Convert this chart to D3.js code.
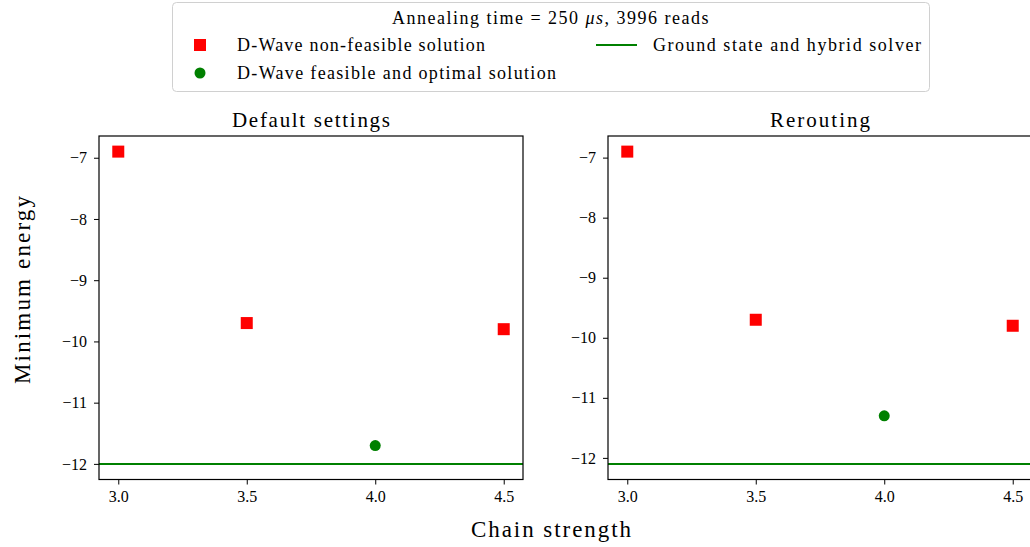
<!DOCTYPE html>
<html><head><meta charset="utf-8">
<script src="https://cdn.jsdelivr.net/npm/d3@7"></script>
<style>
html,body{margin:0;padding:0;background:#fff;overflow:hidden;}
text{font-family:"Liberation Serif","DejaVu Serif",serif;fill:#000;}
</style></head>
<body>
<svg id="c" width="1030" height="547"></svg>
<script>
// ---- data ----
const chainStrengths = [3.0, 3.5, 4.0, 4.5];
const panelTitles = ["Default settings", "Rerouting"];
const nonFeasibleDefault = [[3.0, -6.9], [3.5, -9.7], [4.5, -9.8]];
const feasibleDefault = [[4.0, -11.7]];
const groundDefault = -12.0;
const nonFeasibleReroute = [[3.0, -6.9], [3.5, -9.7], [4.5, -9.8]];
const feasibleReroute = [[4.0, -11.3]];
const groundReroute = -12.1;
const yTicks = [-7, -8, -9, -10, -11, -12];
const xTicks = [3.0, 3.5, 4.0, 4.5];
const legendTitle = "Annealing time = 250 ";
const legendLabels = ["D-Wave non-feasible solution", "D-Wave feasible and optimal solution", "Ground state and hybrid solver"];

const svg = d3.select("#c");
const panels = [
  {title: panelTitles[0], nf: nonFeasibleDefault, f: feasibleDefault, g: groundDefault, left: 99, tl: 158},
  {title: panelTitles[1], nf: nonFeasibleReroute, f: feasibleReroute, g: groundReroute, left: 608, tl: 100}
];
const W = 424, plotTop = 136, plotBottom = 479.5;
const fmtMinus = d => (d < 0 ? "\u2212" + Math.abs(d) : String(d));

panels.forEach(p => {
  const allY = p.nf.map(d => d[1]).concat(p.f.map(d => d[1]), [p.g]);
  const ymin = d3.min(allY), ymax = d3.max(allY), m = (ymax - ymin) * 0.05;
  const x = d3.scaleLinear().domain([2.925, 4.575]).range([p.left, p.left + W]);
  const y = d3.scaleLinear().domain([ymin - m, ymax + m]).range([plotBottom, plotTop]);
  const g = svg.append("g");
  g.append("line").attr("x1", x(2.925)).attr("x2", x(4.575)).attr("y1", y(p.g)).attr("y2", y(p.g))
    .attr("stroke", "#008000").attr("stroke-width", 2);
  g.selectAll("rect.nf").data(p.nf).join("rect").attr("class", "nf")
    .attr("x", d => x(d[0]) - 6).attr("y", d => y(d[1]) - 6).attr("width", 12).attr("height", 12).attr("fill", "#ff0000");
  g.selectAll("circle.f").data(p.f).join("circle").attr("class", "f")
    .attr("cx", d => x(d[0])).attr("cy", d => y(d[1])).attr("r", 5.5).attr("fill", "#008000");
  const ax = g.append("g").attr("transform", `translate(0,${plotBottom})`)
    .call(d3.axisBottom(x).tickValues(xTicks).tickFormat(d3.format(".1f")).tickSize(5).tickPadding(6));
  const ay = g.append("g").attr("transform", `translate(${p.left},0)`)
    .call(d3.axisLeft(y).tickValues(yTicks).tickFormat(fmtMinus).tickSize(5).tickPadding(7));
  [ax, ay].forEach(a => {
    a.select(".domain").remove();
    a.selectAll("line").attr("stroke", "#000").attr("stroke-width", 1);
    a.selectAll("text").style("font-size", "16px").style("font-family", '"Liberation Serif",serif');
  });
  g.append("rect").attr("x", p.left).attr("y", plotTop).attr("width", W).attr("height", plotBottom - plotTop)
    .attr("fill", "none").attr("stroke", "#000").attr("stroke-width", 1.2);
  g.append("text").attr("x", p.left + W / 2).attr("y", plotTop - 9).attr("text-anchor", "middle")
    .attr("textLength", p.tl).attr("lengthAdjust", "spacing")
    .style("font-size", "21px").text(p.title);
});

svg.append("text").attr("x", 551).attr("y", 537).attr("text-anchor", "middle")
  .attr("textLength", 160).attr("lengthAdjust", "spacing").style("font-size", "23px").text("Chain strength");
svg.append("text").attr("transform", "translate(30,290) rotate(-90)").attr("text-anchor", "middle")
  .attr("textLength", 188).attr("lengthAdjust", "spacing").style("font-size", "23px").text("Minimum energy");

const lg = svg.append("g");
lg.append("rect").attr("x", 172.5).attr("y", 2.5).attr("width", 757).attr("height", 89).attr("rx", 4)
  .attr("fill", "#fff").attr("stroke", "#d0d0d0").attr("stroke-width", 1);
const lt = lg.append("text").attr("x", 551).attr("y", 24).attr("text-anchor", "middle").style("font-size", "18px")
  .style("letter-spacing", "1.5px");
lt.append("tspan").text(legendTitle);
lt.append("tspan").style("font-style", "italic").text("\u03bcs");
lt.append("tspan").text(", 3996 reads");
lg.append("rect").attr("x", 194).attr("y", 39).attr("width", 12).attr("height", 12).attr("fill", "#ff0000");
lg.append("circle").attr("cx", 200).attr("cy", 73).attr("r", 5.5).attr("fill", "#008000");
lg.append("line").attr("x1", 596).attr("x2", 637).attr("y1", 45).attr("y2", 45).attr("stroke", "#008000").attr("stroke-width", 2);
lg.append("text").attr("x", 237).attr("y", 51).attr("textLength", 248).attr("lengthAdjust", "spacing")
  .style("font-size", "18px").text(legendLabels[0]);
lg.append("text").attr("x", 237).attr("y", 79).attr("textLength", 319).attr("lengthAdjust", "spacing")
  .style("font-size", "18px").text(legendLabels[1]);
lg.append("text").attr("x", 653).attr("y", 51).attr("textLength", 268).attr("lengthAdjust", "spacing")
  .style("font-size", "18px").text(legendLabels[2]);
</script>
</body></html>
